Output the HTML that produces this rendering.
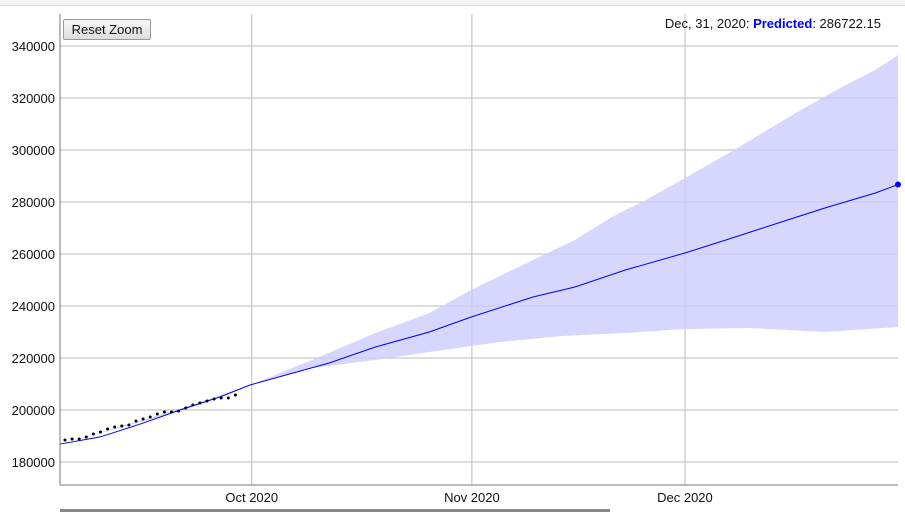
<!DOCTYPE html>
<html><head><meta charset="utf-8"><style>
body{margin:0;width:905px;height:513px;overflow:hidden;background:#fff;font-family:"Liberation Sans",sans-serif}
#btn{position:absolute;left:63px;top:19px;width:88px;height:21px;border:1px solid #999;border-radius:2px;background:linear-gradient(#f6f6f6,#dedede);font:13px "Liberation Sans",sans-serif;color:#111;padding:0;box-sizing:border-box}
#legend{position:absolute;right:24px;top:16px;font-size:13px;color:#111}
</style></head><body>
<div style="position:absolute;left:0;top:0;width:905px;height:5px;border-bottom:1px solid #ddd;background:#f4f4f4"></div>
<svg id="chart" width="905" height="513" style="position:absolute;left:0;top:0"></svg>
<button id="btn">Reset Zoom</button>
<div id="legend">Dec, 31, 2020: <b style="color:#0000ff">Predicted</b>: 286722.15</div>
<div style="position:absolute;left:60px;top:509px;width:550px;height:3px;background:#888"></div>
<script>
const yTicks=[180000,200000,220000,240000,260000,280000,300000,320000,340000];
const xTickLabels=["Oct 2020","Nov 2020","Dec 2020"];
const xTickDays=[27,58,88];
const predDays=[0,5.6,11.3,16.9,22.5,26.75,37.9,44.4,52,57.9,66.6,72.5,79.6,88,94.2,100.7,107.7,114.8,118];
const predVals=[186900,189600,194600,200000,205000,209615,218080,224230,230000,235770,243460,247310,253850,260390,265770,271540,277690,283460,286722];
const upperDays=[0,16.9,26.75,35.5,44.4,52,57.9,66.6,72.5,77.7,82.5,88,94.2,103.6,110.1,114.8,118];
const bandUpper=[186900,200500,209615,219230,229620,237310,246150,257690,265380,274230,280770,289230,298850,314230,324230,330770,336540];
const lowerDays=[0,16.9,26.75,35.5,44.4,52,57.9,62,70.7,79.6,88,97.2,107.7,118];
const bandLower=[186900,199500,209615,216150,219230,222310,224620,226150,228460,229620,231150,231540,230000,231920];
const actualVals=[188470,188850,188850,189620,190780,191550,192700,193470,193850,194240,195780,196550,197320,198470,199240,199240,199620,200780,201930,202700,203470,204240,204620,204620,205780];
const actualStart=0.7;
const L=60,R=898,T=14,B=485;
const x=d=>L+d*(R-L)/118;
const y=v=>46+(340000-v)/20000*52;
const svg=document.getElementById('chart');const NS='http://www.w3.org/2000/svg';
function mk(t,a,p){const e=document.createElementNS(NS,t);for(const k in a)e.setAttribute(k,a[k]);(p||svg).appendChild(e);return e;}
yTicks.forEach(v=>{const g=mk('line',{x1:L,x2:R,y1:y(v),y2:y(v),stroke:'#bbb','stroke-width':1});


const t=mk('text',{x:L-5,y:y(v)+5,'text-anchor':'end','font-size':13,fill:'#111'});t.textContent=v;

});
xTickDays.forEach((d,i)=>{const g=mk('line',{x1:x(d),x2:x(d),y1:T,y2:B,stroke:'#bbb','stroke-width':1});


const t=mk('text',{x:x(d),y:B+17,'text-anchor':'middle','font-size':13,fill:'#111'});t.textContent=xTickLabels[i];

});
let p='M'+upperDays.map((d,i)=>x(d)+','+y(bandUpper[i])).join('L');
for(let i=lowerDays.length-1;i>=0;i--)p+='L'+x(lowerDays[i])+','+y(bandLower[i]);
const band=mk('path',{d:p+'Z',fill:'#ccccff','fill-opacity':0.8});


const line=mk('polyline',{points:predDays.map((d,i)=>x(d)+','+y(predVals[i])).join(' '),fill:'none',stroke:'#0000ff','stroke-width':1});


actualVals.forEach((v,i)=>{const c=mk('circle',{cx:x(actualStart+i),cy:y(v),r:1.5,fill:'#000'});

});
const hp=mk('circle',{cx:x(118),cy:y(predVals[predVals.length-1]),r:3,fill:'#0000ff'});


const ax=mk('path',{d:`M${L},${T}V${B}H${R}`,fill:'none',stroke:'#777','stroke-width':1});


</script>
</body></html>
